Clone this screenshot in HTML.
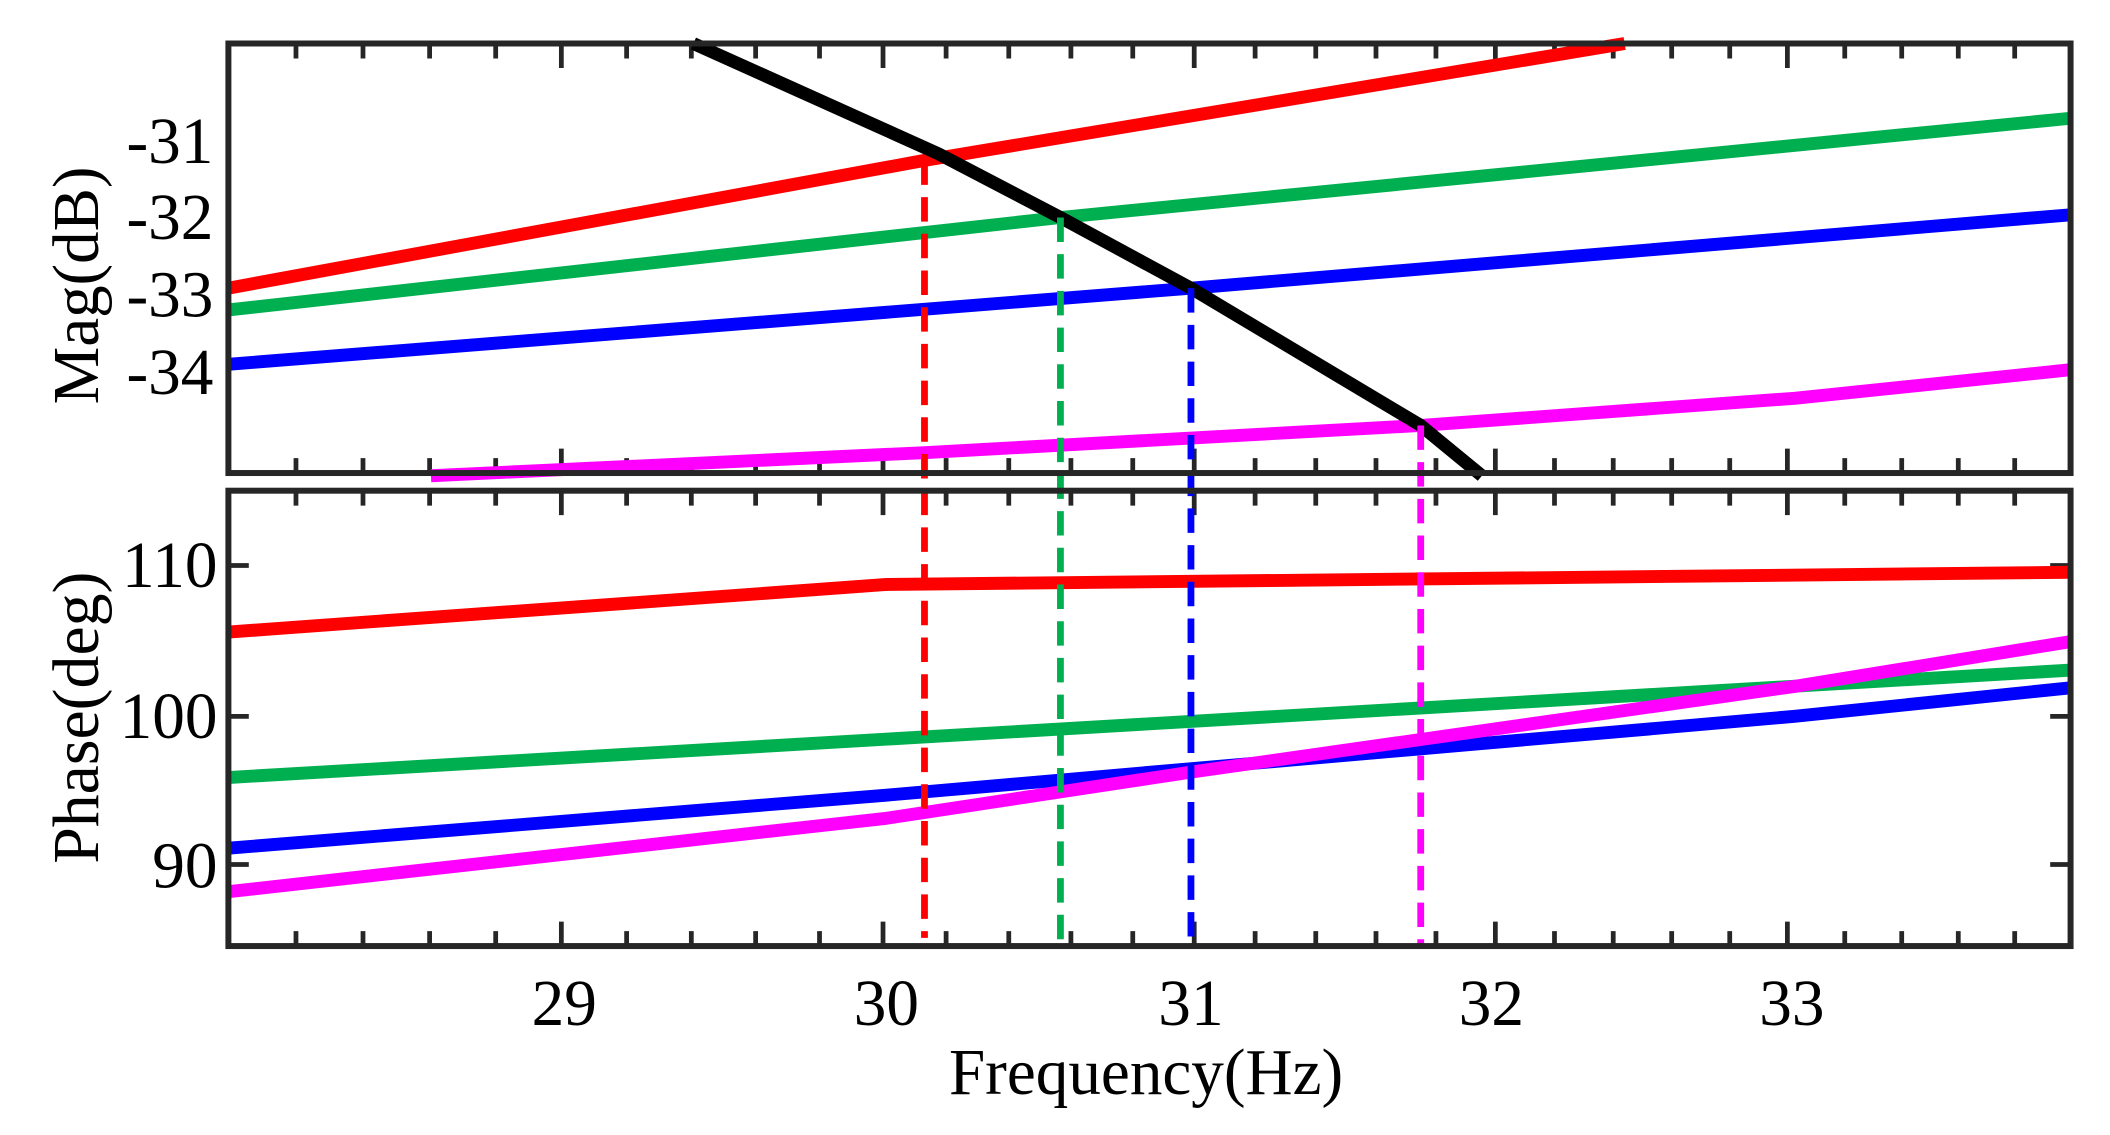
<!DOCTYPE html>
<html><head><meta charset="utf-8"><style>
html,body{margin:0;padding:0;background:#fff;}
svg{display:block;}
text{font-family:"Liberation Serif",serif;fill:#000;}
</style></head><body>
<svg width="2110" height="1135" viewBox="0 0 1552 835" preserveAspectRatio="none" xmlns="http://www.w3.org/2000/svg">
<defs>
<path id="mn" d="M217.7 0v11M267 0v11M316 0v11M364.6 0v11M460.9 0v11M508.5 0v11M555.8 0v11M602.8 0v11M695.9 0v11M742 0v11M787.7 0v11M833.2 0v11M923.2 0v11M967.8 0v11M1012.1 0v11M1056.2 0v11M1143.4 0v11M1186.6 0v11M1229.6 0v11M1272.3 0v11M1356.9 0v11M1398.8 0v11M1440.4 0v11M1481.9 0v11M412.9 0v18M649.5 0v18M878.4 0v18M1099.9 0v18M1314.7 0v18"/>
</defs>
<g stroke="#262626" stroke-width="3.5" fill="none">
<use href="#mn" transform="translate(0,32)"/>
<use href="#mn" transform="translate(0,348) scale(1,-1)"/>
<use href="#mn" transform="translate(0,361)"/>
<use href="#mn" transform="translate(0,696) scale(1,-1)"/>
<path d="M168 416h15M168 527h15M168 636h15M1523 416h-15M1523 527h-15M1523 636h-15"/>
</g>
<g fill="none" stroke-width="9.5" stroke-linejoin="round">
<polyline stroke="#ff0000" points="168,212 680,118 1195,32"/>
<polyline stroke="#00b050" points="168,228 780,160 1523,87"/>
<polyline stroke="#0000ff" points="168,268 876,212 1523,158"/>
<polyline stroke="#ff00ff" points="317,350 680,333 1045,313 1320,293 1523,272"/>
<polyline stroke="#000000" points="510,32 690,113 780,160 876,212 1045,313 1090,350"/>
<polyline stroke="#ff0000" points="168,465 652,430 1523,421"/>
<polyline stroke="#00b050" points="168,572 1523,493"/>
<polyline stroke="#0000ff" points="168,624 652,585 1320,527 1523,506"/>
<polyline stroke="#ff00ff" points="168,656 652,602 876,568 1320,505 1523,472"/>
</g>
<g fill="none" stroke-width="5" stroke-dasharray="18,9">
<line stroke="#ff0000" x1="680" y1="118" x2="680" y2="690"/>
<line stroke="#00b050" x1="780" y1="160" x2="780" y2="696"/>
<line stroke="#0000ff" x1="876" y1="212" x2="876" y2="696"/>
<line stroke="#ff00ff" x1="1045" y1="313" x2="1045" y2="696"/>
</g>
<g fill="none" stroke="#262626" stroke-width="4.4">
<rect x="168" y="32" width="1355" height="316"/>
<rect x="168" y="361" width="1355" height="335"/>
</g>
<g font-size="48" text-anchor="end">
<text x="157" y="120">-31</text>
<text x="157" y="176">-32</text>
<text x="157" y="233">-33</text>
<text x="157" y="290">-34</text>
<text x="160" y="432">110</text>
<text x="160" y="543">100</text>
<text x="160" y="653">90</text>
</g>
<g font-size="48" text-anchor="middle">
<text x="415" y="754">29</text>
<text x="652" y="754">30</text>
<text x="876" y="754">31</text>
<text x="1097" y="754">32</text>
<text x="1318" y="754">33</text>
<text x="843" y="805" textLength="290" lengthAdjust="spacingAndGlyphs">Frequency(Hz)</text>
<text transform="translate(72,210) rotate(-90)" textLength="175" lengthAdjust="spacingAndGlyphs">Mag(dB)</text>
<text transform="translate(72,528) rotate(-90)" textLength="215" lengthAdjust="spacingAndGlyphs">Phase(deg)</text>
</g>
</svg>
</body></html>
